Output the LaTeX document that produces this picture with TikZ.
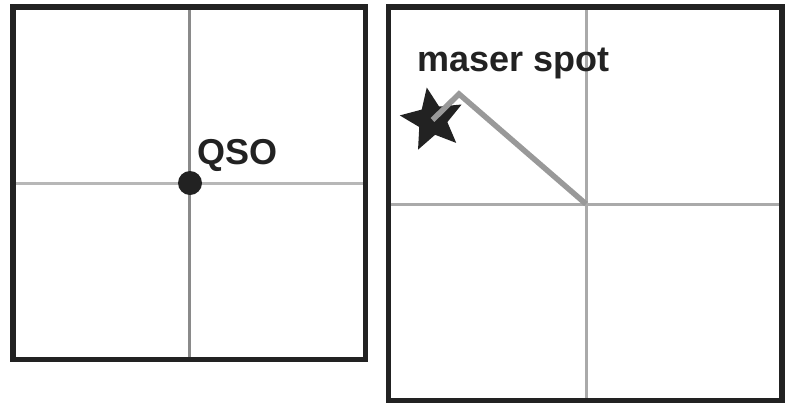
\documentclass[tikz,border=0pt]{standalone}
\usepackage{fontspec}
\setmainfont{Liberation Sans}
\usetikzlibrary{shapes.geometric}
\definecolor{boxc}{HTML}{222222}
\definecolor{gridc}{HTML}{AAAAAA}
\definecolor{gridd}{HTML}{8A8A8A}
\definecolor{armc}{HTML}{999999}
\tikzset{
  panel/.style={draw=boxc, line width=5.5pt},
  gridline/.style={draw=gridc, line width=3pt},
  gridthin/.style={draw=gridd, line width=2.2pt},
  lbl/.style={font=\bfseries\fontsize{36}{36}\selectfont, text=boxc, inner sep=0pt, anchor=base west},
}
\begin{document}
\begin{tikzpicture}[x=1pt,y=-1pt]
\useasboundingbox (0,0) rectangle (786,405);
% left panel
\draw[gridthin] (189.5,9) -- (189.5,357);
\draw[gridline, draw=gridc!85] (15,183) -- (363,183);
\draw[panel] (13,7) rectangle (365.5,359.5);
\node[circle, fill=boxc, minimum size=24pt, inner sep=0pt] (qso) at (190,183) {};
\node[lbl] (qsolabel) at (197,164) {QSO};
% right panel
\draw[gridline] (586,9) -- (586,398);
\draw[gridline] (390,204) -- (780,204);
\draw[panel] (388.5,7) rectangle (782,400.5);
\node[star, star points=5, star point ratio=2.2, fill=boxc, minimum size=66pt, inner sep=0pt, rotate=10] (maser) at (432.5,120) {};
\coordinate (center) at (586,204);
\coordinate (knee) at (459,94);
\draw[draw=armc, line width=5.5pt, line join=miter] (center) -- (knee) -- (maser.center);
\node[lbl] (maserlabel) at (417,71) {maser spot};
\end{tikzpicture}
\end{document}
